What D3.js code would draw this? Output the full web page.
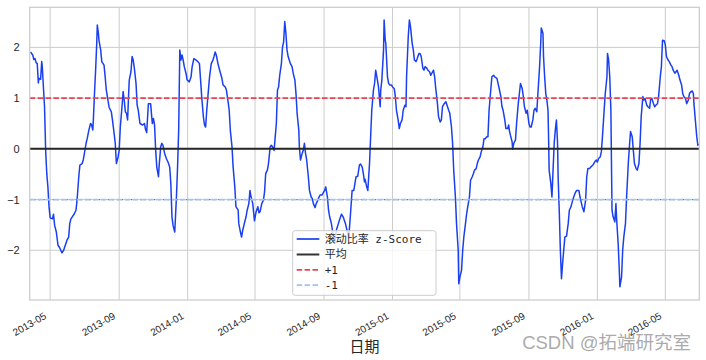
<!DOCTYPE html>
<html>
<head>
<meta charset="utf-8">
<script src="https://cdn.jsdelivr.net/npm/d3@7"></script>
<style>
  html, body { margin: 0; padding: 0; background: #ffffff; }
  svg { display: block; }
</style>
</head>
<body>
<div id="chart"></div>
<script>
// ---- data ----
const startDate = "2013-03-25";   // day offsets below count from this date
const dayOffsets = [
  2,6,8,10,12,14,16,17,20,22,23,25,27,29,31,33,35,37,41,43,45,48,51,54,58,61,64,67,70,72,
  74,77,80,83,85,88,90,94,96,98,101,103,106,109,111,113,114,116,118,120,121,123,124,127,129,133,135,137,140,142,
  146,148,151,153,155,158,160,162,165,167,169,171,173,175,177,178,181,183,185,187,190,192,194,197,
  202,205,207,209,212,216,218,219,221,223,225,227,230,231,234,236,238,241,244,247,250,252,254,256,259,260,262,264,266,267,
  268,270,272,274,276,279,281,285,288,290,293,297,300,303,305,307,310,312,314,316,319,321,324,327,329,331,333,336,339,343,
  345,349,351,354,356,358,361,363,366,368,372,373,376,378,380,383,386,388,391,393,395,398,
  401,404,407,409,411,414,417,419,421,424,426,429,431,433,436,438,440,442,444,446,449,451,453,455,457,459,461,463,465,468,
  470,473,475,477,480,481,483,486,488,490,492,494,497,499,502,504,506,509,511,514,516,518,521,523,526,528,531,533,535,538,
  540,544,547,552,556,559,563,566,569,572,575,578,582,585,588,590,593,595,597,
  598,601,603,606,608,610,613,615,617,620,622,625,626,628,631,632,634,635,638,640,642,645,647,650,652,654,657,659,661,664,
  666,669,671,672,675,677,679,682,684,686,689,691,694,696,698,701,703,705,708,710,713,715,717,720,722,724,727,729,732,734,
  736,739,742,745,747,749,752,754,756,759,761,764,765,767,770,772,774,777,779,781,784,786,789,791,793,796,
  798,800,803,805,808,810,812,815,817,819,822,824,827,829,833,835,837,840,842,844,847,849,852,854,855,857,860,861,863,866,
  868,871,873,875,878,880,882,885,887,890,892,894,897,899,901,904,906,909,911,912,915,916,918,920,922,924,925,926,929,931,
  933,935,937,939,941,942,944,946,948,950,953,954,957,960,962,965,968,972,975,979,981,985,988,991,993,995,
  998,1000,1004,1007,1010,1012,1014,1017,1019,1021,1024,1026,1029,1030,1032,1034,1036,1037,1038,1040,
  1043,1045,1046,1049,1051,1052,1055,1057,1059,1062,1064,1067,1069,1071,1074,1076,1078,1081,1083,1086,
  1088,1090,1093,1095,1097,1100,1102,1105,1107,1109,1112,1114,1116,1119,1121,1124,1126,1128,1131,1133,
  1135,1138,1140,1143,1145,1147,1150,1152,1154,1157,1159,1162,1164,1166,1169,1171,1174,1176,1178,1181,
  1183,1184,1187,1189,1191,1193
];
const zScores = [
  1.91,1.85,1.76,1.78,1.70,1.68,1.30,1.39,1.37,1.72,1.62,1.22,0.83,-0.03,-0.49,-0.75,-1.14,-1.36,-1.38,-1.29,
  -1.51,-1.64,-1.90,-1.95,-2.05,-2.00,-1.90,-1.80,-1.74,-1.47,-1.38,-1.33,-1.28,-1.21,-1.01,-0.55,-0.32,-0.29,-0.22,-0.09,
  0.11,0.20,0.37,0.50,0.47,0.37,0.57,1.09,1.55,2.08,2.44,2.28,2.14,1.95,1.72,1.65,1.42,1.16,0.96,0.82,
  0.73,0.57,0.30,0.11,-0.29,-0.16,-0.03,0.43,0.83,1.13,0.96,0.73,0.70,0.57,1.13,1.36,1.52,1.82,1.75,1.59,
  1.29,0.86,0.76,0.50,
  0.47,0.50,0.38,0.32,0.89,0.89,0.63,0.50,0.60,0.47,-0.03,-0.36,-0.55,-0.36,0.04,0.11,0.07,-0.09,-0.19,-0.26,
  -0.36,-0.68,-1.34,-1.51,-1.64,-1.41,-0.95,-0.36,0.37,1.16,1.95,1.75,1.85,1.75,1.62,1.49,1.36,1.32,1.42,1.62,
  1.78,1.75,1.72,1.68,1.36,1.03,0.63,0.47,0.43,0.76,1.16,1.42,1.68,1.75,1.82,1.91,1.85,1.68,1.55,1.39,
  1.26,1.22,1.16,0.93,0.76,0.37,0.04,-0.36,-0.75,-1.14,-1.21,-1.47,-1.64,-1.74,-1.61,-1.47,-1.34,-1.21,-1.08,-0.82,
  -0.95,-1.08,
  -1.42,-1.24,-1.14,-1.26,-1.24,-1.08,-1.01,-0.85,-0.49,-0.42,-0.29,0.04,0.07,0.04,-0.03,0.24,0.50,1.16,1.22,1.45,
  1.68,2.01,2.11,2.51,2.28,1.95,1.82,1.75,1.68,1.62,1.49,1.36,1.09,0.70,0.37,0.04,-0.22,-0.09,-0.03,0.11,
  -0.09,-0.22,-0.55,-0.82,-0.95,-0.98,-1.08,-1.16,-1.08,-1.01,-0.95,-0.91,-0.91,-0.88,-0.82,-0.75,-0.95,-1.21,-1.34,-1.47,
  -1.61,-1.85,-1.60,-1.42,-1.29,-1.34,-1.47,-1.61,-1.75,-1.30,-0.82,-0.82,-0.55,-0.54,-0.32,-0.30,-0.36,-0.49,-0.65,
  -0.60,-0.75,-0.82,-0.29,0.24,0.76,1.16,1.29,1.55,1.36,1.22,0.83,1.16,1.36,1.95,2.54,2.14,2.08,1.42,1.29,
  1.26,1.26,1.22,1.19,1.03,0.76,0.57,0.40,0.50,0.57,0.76,0.86,0.83,1.42,2.21,2.54,2.41,2.08,1.95,1.75,
  1.72,1.78,1.88,1.88,1.82,1.59,1.55,1.62,1.59,1.55,1.52,1.45,1.49,1.55,1.42,1.19,0.89,0.63,0.53,0.57,
  0.83,0.89,0.93,0.83,0.76,0.70,0.43,0.11,-0.42,-0.95,-1.47,-2.00,-2.66,-2.53,-2.39,-2.00,-1.74,-1.47,-1.28,-1.14,
  -0.95,-0.62,-0.55,-0.49,-0.42,-0.39,
  -0.29,-0.22,-0.16,-0.06,0.04,0.20,0.20,0.24,0.24,0.76,1.16,1.42,1.45,1.42,1.39,1.29,1.19,1.03,0.83,0.76,
  0.57,0.40,0.40,0.47,0.37,0.27,0.14,-0.01,0.11,0.17,0.50,0.89,1.09,1.29,1.19,1.03,0.83,0.70,0.76,0.50,
  0.43,0.43,0.57,0.76,0.80,0.73,1.09,1.62,2.08,2.38,2.28,1.82,1.42,1.09,0.96,0.76,0.24,-0.42,-0.68,-0.95,
  -0.42,0.11,0.37,0.57,0.11,-0.55,-1.21,-2.00,-2.56,-2.26,-1.87,-1.74,-1.72,-1.47,-1.21,-1.14,-1.01,-0.88,-0.82,-0.82,
  -0.95,-1.14,-1.24,-1.01,-0.55,-0.39,
  -0.39,-0.36,-0.32,-0.26,-0.22,-0.26,-0.19,-0.16,-0.06,0.24,0.76,1.09,1.42,1.88,1.75,1.42,0.76,-0.22,-1.21,-1.34,
  -1.44,-1.08,-1.34,-1.87,-2.39,-2.72,-2.53,-2.00,-1.74,-1.47,-0.95,-0.29,0.04,0.34,0.24,-0.03,-0.29,-0.39,-0.42,-0.29,
  0.11,0.63,1.03,0.96,0.99,0.86,0.83,0.80,0.99,0.99,0.89,0.83,0.86,0.89,1.03,1.42,1.62,2.14,2.13,2.05,
  1.82,1.75,1.72,1.65,1.62,1.55,1.49,1.52,1.55,1.45,1.36,1.26,1.09,1.03,0.99,0.89,0.96,1.09,1.12,1.14,
  1.09,0.89,0.50,0.24,0.07,0.09
];
const yTicks = [-2, -1, 0, 1, 2];
const xTickLabels = ["2013-05","2013-09","2014-01","2014-05","2014-09","2015-01","2015-05","2015-09","2016-01","2016-05"];
const refLevels = [0, 1, -1];
const legendLabels = ["滚动比率 z-Score", "平均", "+1", "-1"];
const xTitle = "日期";
const watermark = "CSDN @拓端研究室";

// ---- build ----
const W = 706, H = 360;
const plot = { left: 29.7, right: 699.3, top: 7.3, bottom: 300 };
const parse = d3.timeParse("%Y-%m-%d");
const t0 = parse(startDate);
const n = Math.min(dayOffsets.length, zScores.length);
const series = d3.range(n).map(i => ({ date: d3.timeDay.offset(t0, dayOffsets[i]), v: zScores[i] }));

const x = d3.scaleTime().domain(d3.extent(series, d => d.date)).range([30.5, 699]);
const y = d3.scaleLinear().domain([-2.98, 2.79]).range([plot.bottom, plot.top]);

const svg = d3.select("#chart").append("svg").attr("width", W).attr("height", H);
svg.append("rect").attr("width", W).attr("height", H).attr("fill", "#ffffff");

const tickDates = xTickLabels.map(s => d3.timeParse("%Y-%m")(s));

// grid
const grid = svg.append("g").attr("stroke", "#cccccc").attr("stroke-width", 1);
grid.selectAll("line.gx").data(tickDates).join("line")
  .attr("x1", d => x(d)).attr("x2", d => x(d))
  .attr("y1", plot.top).attr("y2", plot.bottom);
grid.selectAll("line.gy").data(yTicks).join("line")
  .attr("x1", plot.left).attr("x2", plot.right)
  .attr("y1", d => y(d)).attr("y2", d => y(d));

// clip
svg.append("clipPath").attr("id", "clip").append("rect")
  .attr("x", plot.left).attr("y", plot.top)
  .attr("width", plot.right - plot.left).attr("height", plot.bottom - plot.top);

const gPlot = svg.append("g").attr("clip-path", "url(#clip)");

// main series
gPlot.append("path").datum(series)
  .attr("fill", "none").attr("stroke", "#1a3ff2").attr("stroke-width", 1.5)
  .attr("stroke-linejoin", "round")
  .attr("d", d3.line().x(d => x(d.date)).y(d => y(d.v)));

// reference lines
const xr = x.domain();
gPlot.append("line").attr("x1", x(xr[0]) - 2).attr("x2", x(xr[1]) + 2)
  .attr("y1", y(refLevels[0])).attr("y2", y(refLevels[0]))
  .attr("stroke", "#262626").attr("stroke-width", 2);
gPlot.append("line").attr("x1", plot.left).attr("x2", plot.right)
  .attr("y1", y(refLevels[1])).attr("y2", y(refLevels[1]))
  .attr("stroke", "#e2475a").attr("stroke-width", 1.7).attr("stroke-dasharray", "5.5,2.4");
gPlot.append("line").attr("x1", plot.left).attr("x2", plot.right)
  .attr("y1", y(refLevels[2])).attr("y2", y(refLevels[2]))
  .attr("stroke", "#3c9a3c").attr("stroke-width", 1.2).attr("stroke-dasharray", "1.2,3.4");
gPlot.append("line").attr("x1", plot.left).attr("x2", plot.right)
  .attr("y1", y(refLevels[2])).attr("y2", y(refLevels[2]))
  .attr("stroke", "#a4c2f4").attr("stroke-width", 1.7).attr("stroke-dasharray", "5.5,2.4");

// frame
svg.append("rect").attr("x", plot.left).attr("y", plot.top)
  .attr("width", plot.right - plot.left).attr("height", plot.bottom - plot.top)
  .attr("fill", "none").attr("stroke", "#cccccc").attr("stroke-width", 1.25);

// axes
const tickFont = "'Liberation Sans', Arial, sans-serif";
const yAxis = svg.append("g").attr("transform", `translate(${plot.left},0)`)
  .call(d3.axisLeft(y).tickValues(yTicks).tickSize(0).tickPadding(10).tickFormat(d3.format("d")));
yAxis.select(".domain").remove();
yAxis.selectAll("text").attr("font-family", tickFont).attr("font-size", 11).attr("fill", "#262626");

const xAxis = svg.append("g").attr("transform", `translate(0,${plot.bottom})`)
  .call(d3.axisBottom(x).tickValues(tickDates).tickSize(0).tickFormat((d, i) => xTickLabels[i]));
xAxis.select(".domain").remove();
xAxis.selectAll("text")
  .attr("x", 0).attr("y", 0).attr("dy", 0)
  .attr("text-anchor", "end")
  .attr("transform", "translate(-3.5,18) rotate(-30)")
  .attr("font-family", tickFont).attr("font-size", 10).attr("fill", "#262626");

// x title
svg.append("text").attr("x", (plot.left + plot.right) / 2).attr("y", 351.5)
  .attr("text-anchor", "middle").attr("font-family", "'Noto Sans CJK SC', sans-serif")
  .attr("font-size", 15).attr("fill", "#262626").text(xTitle);

// legend
const lg = svg.append("g");
lg.append("rect").attr("x", 292.7).attr("y", 230.7).attr("width", 143.3).attr("height", 64.6)
  .attr("rx", 2.5).attr("fill", "#ffffff").attr("fill-opacity", 0.8)
  .attr("stroke", "#cccccc").attr("stroke-width", 1);
const legendStyles = [
  { stroke: "#1a3ff2", dash: null, w: 1.7 },
  { stroke: "#333333", dash: null, w: 2 },
  { stroke: "#e2475a", dash: "5.5,2.4", w: 1.7 },
  { stroke: "#a4c2f4", dash: "5.5,2.4", w: 1.7 }
];
const rowY = [239, 254.5, 269.8, 285.1];
legendLabels.forEach((lab, i) => {
  const s = legendStyles[i];
  const ln = lg.append("line").attr("x1", 296.7).attr("x2", 319.3)
    .attr("y1", rowY[i]).attr("y2", rowY[i])
    .attr("stroke", s.stroke).attr("stroke-width", s.w);
  if (s.dash) ln.attr("stroke-dasharray", s.dash);
  lg.append("text").attr("x", 324.7).attr("y", rowY[i]).attr("dy", "0.36em")
    .attr("font-family", "'DejaVu Sans Mono', 'Noto Sans CJK SC', monospace")
    .attr("font-size", 11).attr("fill", "#262626").text(lab);
});

// watermark
svg.append("text").attr("x", 691).attr("y", 349).attr("text-anchor", "end")
  .attr("font-family", "'Liberation Sans', 'Noto Sans CJK SC', sans-serif")
  .attr("font-size", 18.5).attr("fill", "#a0a0a0").attr("fill-opacity", 0.9)
  .text(watermark);
</script>
</body>
</html>
